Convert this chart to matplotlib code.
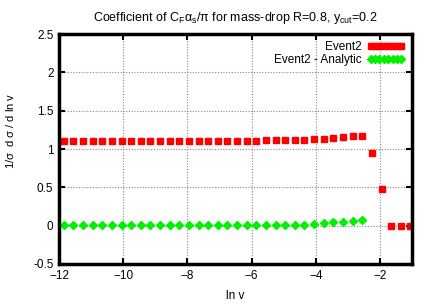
import numpy as np
import matplotlib
matplotlib.use('Agg')
from matplotlib import pyplot as plt

plt.rcParams['font.family'] = ['Liberation Sans', 'DejaVu Sans']
plt.rcParams['mathtext.default'] = 'regular'

# bin centres in ln v
lnv = [-11.85, -11.55, -11.25, -10.95, -10.65, -10.35, -10.05, -9.75, -9.45, -9.15,
       -8.85, -8.55, -8.25, -7.95, -7.65, -7.35, -7.05, -6.75, -6.45, -6.15,
       -5.85, -5.55, -5.25, -4.95, -4.65, -4.35, -4.05, -3.75, -3.45, -3.15,
       -2.85, -2.55, -2.25, -1.95, -1.65, -1.35, -1.05]

event2 = [1.11, 1.11, 1.11, 1.11, 1.11, 1.11, 1.11, 1.11, 1.11, 1.11,
          1.11, 1.11, 1.11, 1.11, 1.11, 1.11, 1.11, 1.11, 1.11, 1.11,
          1.11, 1.115, 1.115, 1.115, 1.12, 1.12, 1.125, 1.135, 1.145, 1.157,
          1.165, 1.175, 0.95, 0.478, 0.0, 0.0, 0.0]

# Event2 - Analytic, only up to ln v = -2.55
analytic_x = lnv[:32]
diff = [0.005, 0.005, 0.005, 0.005, 0.005, 0.005, 0.005, 0.005, 0.005, 0.005,
        0.005, 0.005, 0.005, 0.005, 0.005, 0.005, 0.005, 0.005, 0.005, 0.005,
        0.008, 0.008, 0.01, 0.01, 0.012, 0.013, 0.02, 0.03, 0.043, 0.052,
        0.06, 0.07]

xticks = [-12, -10, -8, -6, -4, -2]
yticks = [-0.5, 0, 0.5, 1, 1.5, 2, 2.5]
ylabels = ['-0.5', '0', '0.5', '1', '1.5', '2', '2.5']

fig = plt.figure(figsize=(4.34, 3.04), dpi=100)
ax = fig.add_axes([59/434, 1-264/304, (412-59)/434, (264-34)/304])

ax.plot(lnv, event2, ls='none', marker='s', ms=3.8, color='#ff0000',
        mec='#ff0000', label='Event2')
ax.plot(analytic_x, diff, ls='none', marker='D', ms=4.0, color='#00f000',
        mec='#00f000', label='Event2 - Analytic')

ax.set_xlim(-12, -1)
ax.set_ylim(-0.5, 2.5)
ax.set_xticks(xticks)
ax.set_yticks(yticks)
ax.set_yticklabels(ylabels)
ax.grid(True, color='#888888', ls=(0, (1, 1.5)), lw=0.8)
ax.tick_params(direction='in', length=4, width=1.5, top=True, right=True,
               labelsize=8.5, pad=4)
for s in ax.spines.values():
    s.set_linewidth(2.5)

ax.set_title(r'Coefficient of C$_F\alpha_s$/$\pi$ for mass-drop R=0.8, y$_{cut}$=0.2',
             fontsize=9, pad=9)
ax.set_xlabel('ln v', fontsize=8.5, labelpad=6)
ax.set_ylabel(r'1/$\sigma$  d $\sigma$ / d ln v', fontsize=8)
ax.yaxis.set_label_coords(-0.122, 0.578)

leg = ax.legend(loc='upper right', frameon=False, fontsize=8.5, markerfirst=False,
                numpoints=8, handlelength=3.2, handletextpad=0.5,
                borderaxespad=0.2, labelspacing=0.1)

fig.savefig('out.png', dpi=100)
